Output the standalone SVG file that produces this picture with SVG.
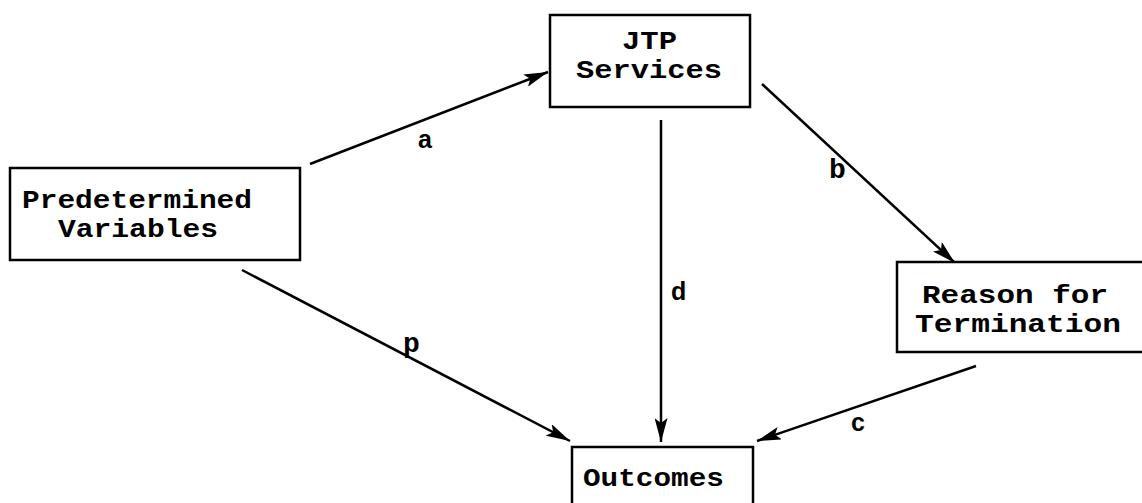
<svg xmlns="http://www.w3.org/2000/svg" width="1142" height="503" viewBox="0 0 1142 503">
<style>
.box{fill:#fff;stroke:#000;stroke-width:2.5}
.t{font-family:"Liberation Mono",monospace;font-weight:bold;font-size:25px;fill:#000}
.l{font-family:"Liberation Sans",sans-serif;font-weight:bold;font-size:25px;fill:#000}
.lm{font-family:"Liberation Mono",monospace;font-weight:bold;font-size:28px;fill:#000}
.c{stroke:#000;stroke-width:2.5;fill:none;marker-end:url(#ah)}
</style>
<defs>
<marker id="ah" viewBox="0 0 24 13" refX="24" refY="6.5" markerWidth="24" markerHeight="13" markerUnits="userSpaceOnUse" orient="auto">
<path d="M0,0 L24,6.5 L0,13 L5,6.5 Z" fill="#000"/>
</marker>
</defs>
<rect width="1142" height="503" fill="#fff"/>
<g id="connectors">
<line class="c" x1="310" y1="164" x2="548" y2="72"/>
<line class="c" x1="762" y1="84" x2="955" y2="263"/>
<line class="c" x1="661" y1="120" x2="661" y2="442"/>
<line class="c" x1="242" y1="270" x2="570" y2="441"/>
<line class="c" x1="976" y1="366" x2="757" y2="441"/>
<text class="l" x="418" y="148">a</text>
<text class="lm" x="829" y="178">b</text>
<text class="l" x="671" y="300">d</text>
<text class="lm" x="403" y="352">p</text>
<text class="l" x="851" y="431">c</text>
</g>
<g id="predetermined">
<rect class="box" x="10" y="168" width="290" height="92"/>
<text class="t" x="22" y="208" textLength="230" lengthAdjust="spacingAndGlyphs">Predetermined</text>
<text class="t" x="58" y="237" textLength="160" lengthAdjust="spacingAndGlyphs">Variables</text>
</g>
<g id="jtp">
<rect class="box" x="550" y="15" width="200" height="92"/>
<text class="t" x="622" y="49" textLength="55" lengthAdjust="spacingAndGlyphs">JTP</text>
<text class="t" x="576" y="78" textLength="146" lengthAdjust="spacingAndGlyphs">Services</text>
</g>
<g id="reason">
<rect class="box" x="897" y="262" width="250" height="90"/>
<text class="t" x="922" y="303" textLength="186" lengthAdjust="spacingAndGlyphs">Reason for</text>
<text class="t" x="915" y="332" textLength="206" lengthAdjust="spacingAndGlyphs">Termination</text>
</g>
<g id="outcomes">
<rect class="box" x="572" y="447" width="181" height="70"/>
<text class="t" x="583" y="486" textLength="141" lengthAdjust="spacingAndGlyphs">Outcomes</text>
</g>
</svg>
